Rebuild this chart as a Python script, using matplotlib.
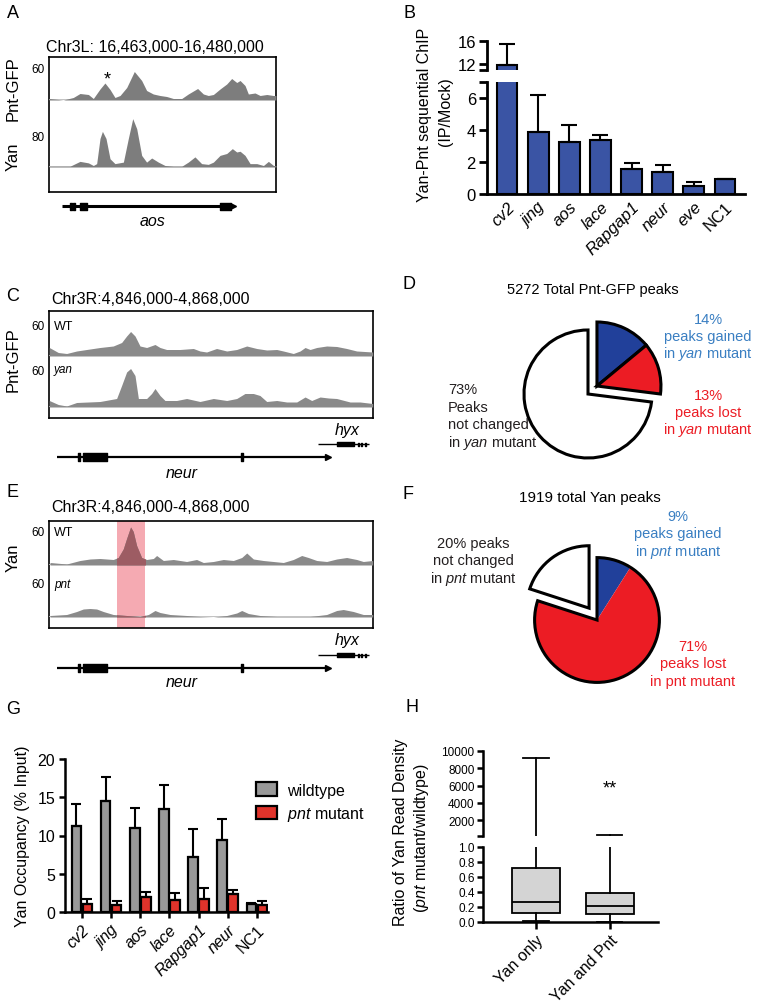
import numpy as np
import matplotlib
matplotlib.use("Agg")
import matplotlib.pyplot as plt
from matplotlib.patches import Rectangle

plt.rcParams['font.family'] = ['Liberation Sans', 'DejaVu Sans']
plt.rcParams['mathtext.fontset'] = 'custom'
plt.rcParams['mathtext.rm'] = 'Liberation Sans'
plt.rcParams['mathtext.it'] = 'Liberation Sans:italic'

W, H = 757, 1004

# ===================== data =====================
# A: aos locus, positions in kb from 16,463,000
a_pnt_pos = [0.0, 1.07, 1.82, 2.32, 2.95, 3.32, 3.82, 4.19, 4.57, 4.94, 5.32, 5.82, 6.39, 6.94,
             7.31, 7.81, 8.31, 8.81, 9.31, 9.94, 10.43, 11.13, 11.56, 11.93, 12.31, 12.81, 13.31,
             13.68, 14.06, 14.31, 14.68, 14.93, 15.43, 15.81, 16.31, 16.8, 17.0]
a_pnt = [3, 0, 5, 13, 11, 3, 22, 34, 21, 5, 9, 25, 57, 39, 19, 12, 9, 7, 3, 3, 12, 23, 12, 9, 11,
         22, 32, 43, 35, 39, 29, 12, 14, 9, 11, 9, 9]
a_yan_pos = [0.0, 1.57, 2.32, 2.95, 3.32, 3.57, 3.82, 4.0, 4.27, 4.57, 4.94, 5.57, 5.94, 6.27, 6.57,
             6.94, 7.31, 7.69, 8.19, 8.69, 9.31, 9.94, 10.43, 10.93, 11.43, 11.93, 12.31, 12.81,
             13.31, 13.73, 14.06, 14.31, 14.68, 15.06, 15.56, 16.06, 16.43, 16.81, 17.0]
a_yan = [2, 2, 15, 11, 4, 9, 76, 95, 76, 22, 9, 13, 76, 129, 102, 31, 13, 24, 13, 4, 2, 2, 13, 27,
         9, 7, 13, 31, 36, 49, 40, 42, 31, 9, 9, 4, 15, 4, 4]
aos_span = (1.0, 13.8)
aos_exons = [(1.57, 0.13), (1.82, 0.15), (2.32, 0.55), (12.8, 0.8)]

# B: Yan-Pnt sequential ChIP
b_genes = ['cv2', 'jing', 'aos', 'lace', 'Rapgap1', 'neur', 'eve', 'NC1']
b_mean = [11.8, 3.87, 3.24, 3.35, 1.57, 1.36, 0.52, 0.94]
b_err = [3.7, 2.3, 1.09, 0.35, 0.38, 0.46, 0.25, 0.0]

# C / E: neur locus, positions in kb from 4,846,000
c_wt_pos = [0, 0.61, 1.18, 1.86, 2.54, 3.45, 4.35, 4.92, 5.26, 5.53, 5.83, 6.17, 6.62, 7.19, 7.53,
            7.98, 8.89, 9.8, 10.25, 10.7, 11.38, 12.07, 12.75, 13.43, 14.11, 14.79, 15.47, 15.92,
            16.6, 17.06, 17.4, 17.74, 18.19, 18.87, 19.55, 20.23, 20.91, 22.0]
c_wt = [17, 7, 5, 10, 13, 17, 20, 27, 40, 49, 40, 20, 17, 23, 17, 13, 13, 15, 10, 8, 15, 10, 13,
        20, 15, 12, 13, 10, 5, 10, 17, 13, 17, 20, 19, 15, 10, 8]
c_yan_pos = [0, 0.61, 1.18, 1.86, 3.45, 4.58, 4.92, 5.26, 5.53, 5.83, 6.06, 6.62, 6.96, 7.19, 7.53,
             7.87, 8.66, 9.34, 10.25, 11.16, 12.07, 12.75, 13.31, 13.88, 14.33, 14.79, 15.47, 16.15,
             16.83, 17.4, 17.85, 18.42, 18.99, 19.55, 20.46, 21.14, 22.0]
c_yan = [13, 5, 2, 9, 11, 17, 43, 70, 77, 63, 17, 17, 27, 37, 23, 13, 13, 17, 11, 17, 13, 17, 27,
         27, 23, 11, 13, 10, 10, 20, 13, 20, 18, 17, 10, 10, 7]
e_wt_pos = [0.05, 1.18, 2.09, 2.77, 3.45, 4.35, 4.69, 5.03, 5.26, 5.53, 5.71, 5.94, 6.28, 6.62, 7.08,
            7.3, 7.76, 8.44, 9.34, 10.02, 10.48, 11.16, 11.84, 12.52, 13.09, 13.43, 13.88, 14.56,
            15.24, 15.92, 16.6, 17.17, 17.62, 18.19, 18.87, 19.55, 20.23, 20.91, 21.36, 22.0]
e_wt = [5, 2, 9, 12, 13, 11, 15, 32, 53, 76, 67, 39, 15, 11, 13, 19, 9, 11, 7, 11, 5, 7, 11, 9, 15,
        24, 12, 9, 7, 5, 11, 19, 15, 9, 7, 12, 15, 11, 7, 9]
e_pnt_pos = [0.05, 1.18, 1.86, 2.31, 2.77, 3.22, 3.67, 4.35, 5.26, 6.17, 6.74, 7.19, 7.53, 8.21,
             9.34, 10.25, 11.16, 12.07, 12.75, 13.09, 13.54, 14.33, 15.47, 16.6, 17.74, 18.87,
             19.55, 20.0, 20.68, 21.36, 22.0]
e_pnt = [3, 5, 11, 16, 17, 16, 11, 5, 3, 1, 5, 13, 9, 5, 3, 1, 0, 3, 8, 13, 7, 3, 1, 1, 1, 5, 13,
         15, 11, 5, 5]
e_highlight = (4.6, 6.5)
neur_span = (0.54, 18.98)
neur_exons = [(1.97, 0.12), (2.27, 1.63), (13.03, 0.17)]
hyx_span = (18.3, 21.77)
hyx_exons = [(19.55, 1.18)]
hyx_small = [(21.0, 0.08), (21.22, 0.08), (21.45, 0.08)]

# D / F: pies (percent)
d_pct = [14, 13, 73]
f_pct = [9, 71, 20]

# G: Yan occupancy
g_genes = ['cv2', 'jing', 'aos', 'lace', 'Rapgap1', 'neur', 'NC1']
g_wt = [11.2, 14.5, 11.0, 13.5, 7.2, 9.4, 1.0]
g_wt_err = [2.9, 3.2, 2.6, 3.1, 3.7, 2.7, 0.2]
g_pnt = [1.0, 0.87, 1.9, 1.57, 1.65, 2.4, 0.96]
g_pnt_err = [0.7, 0.56, 0.75, 0.86, 1.52, 0.43, 0.44]

# H: ratio boxplots
h_groups = ['Yan only', 'Yan and Pnt']
h_q1 = [0.12, 0.11]
h_med = [0.27, 0.22]
h_q3 = [0.72, 0.39]
h_lo = [0.02, 0.005]
h_hi = [9200, 230]

BLUE = '#21409a'
RED = '#ec1c24'
LBLUE = '#3a7fc2'

fig = plt.figure(figsize=(7.57, 10.04), dpi=100)


def ax_px(x0, y0, x1, y1, **kw):
    return fig.add_axes([x0 / W, 1 - y1 / H, (x1 - x0) / W, (y1 - y0) / H], **kw)


def txt(x, y, s, **kw):
    kw.setdefault('ha', 'center')
    kw.setdefault('va', 'center')
    return fig.text(x / W, 1 - y / H, s, **kw)


def box(x0, y0, x1, y1, span):
    ax = ax_px(x0, y0, x1, y1)
    ax.set_xlim(0, span)
    ax.set_ylim(0, 1)
    ax.set_xticks([])
    ax.set_yticks([])
    for s in ax.spines.values():
        s.set_linewidth(1.2)
    return ax


def track(x0, x1, base, top, span, pos, vals, scale, color, hl=None):
    ax = ax_px(x0, top, x1, base)
    ax.plot([0, span], [0, 0], color='#b8b8b8', lw=1.2, zorder=1)
    ax.fill_between(pos, 0, vals, color=color, lw=0, clip_on=False, zorder=2)
    if hl is not None:
        # the part under the pink highlight is darker
        f = ax.fill_between(pos, 0, vals, color='#9d5c63', lw=0, zorder=3)
        f.set_clip_path(Rectangle((hl[0], -10), hl[1] - hl[0], 500, transform=ax.transData))
        f.set_clip_on(True)
    ax.set_xlim(0, span)
    ax.set_ylim(0, scale)
    ax.axis('off')
    return ax


def gene(ax, y, span, exons, h, lw, small=None, arrow=True):
    ax.plot(span, [y, y], color='k', lw=lw, solid_capstyle='butt')
    ax.broken_barh(exons, (y - h / 2, h), color='k')
    if small:
        ax.broken_barh(small, (y - 1.5, 3), color='k')
    if arrow:
        ax.plot([span[1]], [y], marker='>', color='k', ms=4)


# ===================== A =====================
txt(13, 14, 'A', fontsize=13)
txt(155, 47, 'Chr3L: 16,463,000-16,480,000', fontsize=11.5)
box(49, 58, 276, 193, 17)
track(49, 276, 101, 71, 17, a_pnt_pos, a_pnt, 60, '#7d7d7d')
track(49, 276, 168, 138, 17, a_yan_pos, a_yan, 80, '#7d7d7d')
txt(45, 70, '60', fontsize=8.5, ha='right')
txt(45, 138, '80', fontsize=8.5, ha='right')
txt(107, 80, '*', fontsize=13)
txt(13, 89, 'Pnt-GFP', fontsize=12, rotation=90)
txt(13, 157, 'Yan', fontsize=12, rotation=90)
ga = ax_px(49, 199, 276, 215)
ga.set_xlim(0, 17)
ga.set_ylim(215, 199)
ga.axis('off')
gene(ga, 207, aos_span, aos_exons, 7, 2.2)
txt(153, 221, 'aos', fontsize=11.5, style='italic')

# ===================== B =====================
txt(410, 13, 'B', fontsize=13)
bx = np.arange(len(b_genes))
b_up = ax_px(487, 42, 745, 71)
b_lo = ax_px(487, 83, 745, 195)
for ax in (b_up, b_lo):
    ax.bar(bx, b_mean, width=0.67, color='#3a54a4', edgecolor='k', lw=1.5,
           yerr=[np.zeros(len(b_err)), b_err], capsize=6,
           error_kw=dict(elinewidth=1.5, capthick=1.5, ecolor='k'))
    ax.set_xlim(-0.64, 7.64)
    ax.spines['top'].set_visible(False)
    ax.spines['right'].set_visible(False)
    ax.spines['left'].set_linewidth(2)
    ax.spines['bottom'].set_linewidth(2)
    ax.tick_params(axis='y', width=2, length=6, labelsize=12, pad=2)
    ax.tick_params(axis='x', length=0)
b_up.set_ylim(11, 16)
b_up.set_yticks([11, 12, 16])
b_up.set_yticklabels(['', '12', '16'])
b_up.spines['bottom'].set_visible(False)
b_up.set_xticks([])
b_lo.set_ylim(0, 7)
b_lo.set_yticks([0, 2, 4, 6, 7])
b_lo.set_yticklabels(['0', '2', '4', '6', ''])
b_lo.set_xticks(bx)
b_lo.set_xticklabels(b_genes, rotation=45, ha='right', rotation_mode='anchor', fontsize=12)
for lab in b_lo.get_xticklabels():
    if lab.get_text() != 'NC1':
        lab.set_fontstyle('italic')
txt(424, 115, 'Yan-Pnt sequential ChIP', fontsize=11.5, rotation=90)
txt(446, 112, '(IP/Mock)', fontsize=11.5, rotation=90)

# ===================== C =====================
txt(13, 297, 'C', fontsize=13)
txt(150, 300, 'Chr3R:4,846,000-4,868,000', fontsize=11.5)
box(49.3, 312, 372.7, 419, 22)
track(49.3, 372.7, 357, 327, 22, c_wt_pos, c_wt, 60, '#8a8a8a')
track(49.3, 372.7, 408, 378, 22, c_yan_pos, c_yan, 60, '#8a8a8a')
txt(45, 327, '60', fontsize=8.5, ha='right')
txt(45, 372, '60', fontsize=8.5, ha='right')
txt(54, 327, 'WT', fontsize=9, ha='left')
txt(54, 370, 'yan', fontsize=8.5, ha='left', style='italic')
txt(13, 360, 'Pnt-GFP', fontsize=12, rotation=90)
gc = ax_px(49.3, 438, 372.7, 466)
gc.set_xlim(0, 22)
gc.set_ylim(466, 438)
gc.axis('off')
gene(gc, 458, neur_span, neur_exons, 8, 1.6)
gene(gc, 445, hyx_span, hyx_exons, 4, 1.0, small=hyx_small, arrow=False)
txt(347, 431, 'hyx', fontsize=11.5, style='italic')
txt(182, 473, 'neur', fontsize=11.5, style='italic')

# ===================== E =====================
txt(13, 493, 'E', fontsize=13)
txt(150, 508, 'Chr3R:4,846,000-4,868,000', fontsize=11.5)
be = box(49.3, 522, 372.7, 629, 22)
be.axvspan(e_highlight[0], e_highlight[1], color='#f5aab2', lw=0, zorder=0)
track(49.3, 372.7, 566, 536, 22, e_wt_pos, e_wt, 60, '#8a8a8a', hl=e_highlight)
track(49.3, 372.7, 618, 588, 22, e_pnt_pos, e_pnt, 60, '#8a8a8a', hl=e_highlight)
txt(45, 533, '60', fontsize=8.5, ha='right')
txt(45, 585, '60', fontsize=8.5, ha='right')
txt(54, 533, 'WT', fontsize=9, ha='left')
txt(54, 585, 'pnt', fontsize=8.5, ha='left', style='italic')
txt(13, 558, 'Yan', fontsize=12, rotation=90)
ge = ax_px(49.3, 649, 372.7, 677)
ge.set_xlim(0, 22)
ge.set_ylim(677, 649)
ge.axis('off')
gene(ge, 669, neur_span, neur_exons, 8, 1.6)
gene(ge, 656, hyx_span, hyx_exons, 4, 1.0, small=hyx_small, arrow=False)
txt(347, 641, 'hyx', fontsize=11.5, style='italic')
txt(182, 683, 'neur', fontsize=11.5, style='italic')

# ===================== D =====================
txt(409, 285, 'D', fontsize=13)
txt(593, 290, '5272 Total Pnt-GFP peaks', fontsize=10.5)
ad = ax_px(588 - 80, 395 - 80, 588 + 80, 395 + 80)
wp = dict(edgecolor='k', lw=2.2)
w1, _ = ad.pie(d_pct, colors=['white', 'white', 'white'], startangle=90, counterclock=False,
               center=(0, 0), wedgeprops=wp)
w1[0].set_visible(False)
w1[1].set_visible(False)
w2, _ = ad.pie(d_pct, colors=[BLUE, RED, 'white'], startangle=90, counterclock=False,
               center=(0.14, 0.125), wedgeprops=wp)
w2[2].set_visible(False)
ad.set_xlim(-1.25, 1.25)
ad.set_ylim(-1.25, 1.25)
ad.set_aspect('equal')
ad.axis('off')


def lines(x, y0, dy, texts, **kw):
    for i, s in enumerate(texts):
        txt(x, y0 + i * dy, s, **kw)


lines(708, 320, 17, ['14%', 'peaks gained', r'in $\mathit{yan}$ mutant'], fontsize=10.5, color=LBLUE)
lines(708, 396, 17, ['13%', 'peaks lost', r'in $\mathit{yan}$ mutant'], fontsize=10.5, color=RED)
lines(448, 390, 17.6, ['73%', 'Peaks', 'not changed', r'in $\mathit{yan}$ mutant'], fontsize=10.5,
      color='#231f20', ha='left')

# ===================== F =====================
txt(408, 495, 'F', fontsize=13)
txt(590, 498, '1919 total Yan peaks', fontsize=11)
af = ax_px(597 - 78, 621 - 78, 597 + 78, 621 + 78)
w3, _ = af.pie(f_pct, colors=[BLUE, RED, 'white'], startangle=90, counterclock=False,
               center=(0, 0), wedgeprops=dict(lw=0))
w3[2].set_visible(False)
w4, _ = af.pie([f_pct[0] + f_pct[1], f_pct[2]], colors=['none', 'none'], startangle=90,
               counterclock=False, center=(0, 0), wedgeprops=dict(edgecolor='k', lw=2.2))
w4[1].set_visible(False)
w5, _ = af.pie(f_pct, colors=['white', 'white', 'white'], startangle=90, counterclock=False,
               center=(-0.127, 0.19), wedgeprops=wp)
w5[0].set_visible(False)
w5[1].set_visible(False)
af.set_xlim(-1.25, 1.25)
af.set_ylim(-1.25, 1.25)
af.set_aspect('equal')
af.axis('off')
lines(678, 517, 17.5, ['9%', 'peaks gained', r'in $\mathit{pnt}$ mutant'], fontsize=10.5, color=LBLUE)
lines(473, 544, 17.5, ['20% peaks', 'not changed', r'in $\mathit{pnt}$ mutant'], fontsize=10.5,
      color='#231f20')
lines(693, 647, 17.5, ['71%', 'peaks lost', 'in pnt mutant'], fontsize=10.5, color=RED)

# ===================== G =====================
txt(13, 710, 'G', fontsize=13)
ag = ax_px(65, 760, 268, 913)
gx = np.arange(len(g_genes))
ek = dict(elinewidth=1.5, capthick=1.5, ecolor='k')
bw = ag.bar(gx - 0.19, g_wt, width=0.33, color='#999999', edgecolor='k', lw=1.6,
            yerr=[np.zeros(len(g_wt)), g_wt_err], capsize=3.5, error_kw=ek, label='wildtype')
bp = ag.bar(gx + 0.19, g_pnt, width=0.33, color='#e0332b', edgecolor='k', lw=1.6,
            yerr=[np.zeros(len(g_pnt)), g_pnt_err], capsize=3.5, error_kw=ek,
            label=r'$\mathit{pnt}$ mutant')
ag.set_xlim(-0.58, 6.38)
ag.set_ylim(0, 20)
ag.set_yticks([0, 5, 10, 15, 20])
ag.set_xticks(gx)
ag.set_xticklabels(g_genes, rotation=45, ha='right', rotation_mode='anchor', fontsize=11.5)
for lab in ag.get_xticklabels():
    if lab.get_text() != 'NC1':
        lab.set_fontstyle('italic')
ag.spines['top'].set_visible(False)
ag.spines['right'].set_visible(False)
ag.spines['left'].set_linewidth(1.8)
ag.spines['bottom'].set_linewidth(1.8)
ag.tick_params(width=1.8, length=4, labelsize=11.5, pad=3)
txt(23, 836, 'Yan Occupancy (% Input)', fontsize=11.5, rotation=90)
ag.legend(handles=[bw, bp], loc='upper left', bbox_to_anchor=(242 / W, 1 - 769 / H),
          bbox_transform=fig.transFigure, frameon=False, fontsize=11.5, handlelength=1.3,
          handleheight=0.9, handletextpad=0.6, labelspacing=0.45)

# ===================== H =====================
txt(412, 708, 'H', fontsize=13)
stats = [dict(med=h_med[i], q1=h_q1[i], q3=h_q3[i], whislo=h_lo[i], whishi=h_hi[i],
              fliers=[], label=h_groups[i]) for i in range(len(h_groups))]
h_up = ax_px(483, 752, 658, 837)
h_lo_ax = ax_px(483, 848, 658, 923)
for ax in (h_up, h_lo_ax):
    ax.bxp(stats, positions=[1, 2], widths=0.66, capwidths=0.34, patch_artist=True,
           showfliers=False,
           boxprops=dict(facecolor='#d4d4d4', edgecolor='k', lw=1.3),
           medianprops=dict(color='k', lw=1.3),
           whiskerprops=dict(color='k', lw=1.3),
           capprops=dict(color='k', lw=1.3))
    ax.set_xlim(0.284, 2.65)
    ax.spines['top'].set_visible(False)
    ax.spines['right'].set_visible(False)
    ax.spines['left'].set_linewidth(1.8)
    ax.spines['bottom'].set_linewidth(1.8)
    ax.tick_params(width=1.8, length=4, labelsize=8.5, pad=2)
h_up.set_ylim(150, 10000)
h_up.set_yticks([150, 2000, 4000, 6000, 8000, 10000])
h_up.set_yticklabels(['', '2000', '4000', '6000', '8000', '10000'])
h_up.spines['bottom'].set_visible(False)
h_up.set_xticks([])
h_lo_ax.set_ylim(0, 1.0)
h_lo_ax.set_yticks([0, 0.2, 0.4, 0.6, 0.8, 1.0])
h_lo_ax.set_yticklabels(['0.0', '0.2', '0.4', '0.6', '0.8', '1.0'])
h_lo_ax.set_xticks([1, 2])
h_lo_ax.set_xticklabels(h_groups, rotation=45, ha='right', rotation_mode='anchor', fontsize=11.5)
h_lo_ax.tick_params(axis='x', length=5)
txt(610, 789, '**', fontsize=13)
txt(401, 832, 'Ratio of Yan Read Density', fontsize=11.5, rotation=90)
txt(422, 838, r'($\mathit{pnt}$ mutant/wildtype)', fontsize=11.5, rotation=90)

fig.savefig('out.png', dpi=100)
